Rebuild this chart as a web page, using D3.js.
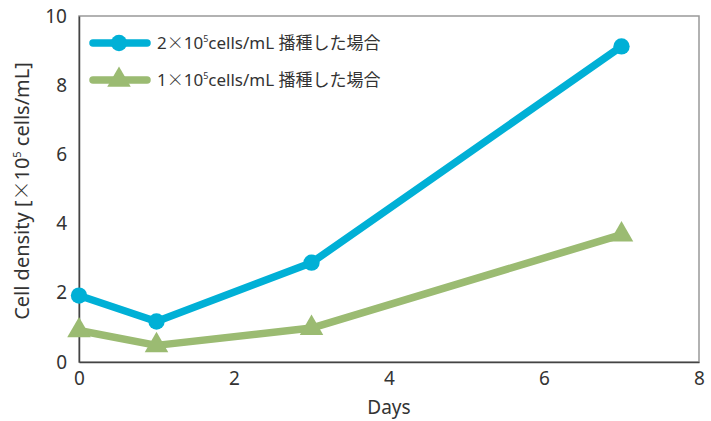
<!DOCTYPE html>
<html lang="ja">
<head>
  <meta charset="UTF-8">
  <title>Cell density</title>
  <script src="https://d3js.org/d3.v7.min.js"></script>
  <style>
    body { margin: 0; background: #fff; }
    text { font-family: "Noto Sans", "Noto Sans CJK JP", sans-serif; fill: #333; }
    .tick text { font-size: 19px; }
    .axis-label { font-size: 19px; }
    .y-label { font-size: 20px; }
    .legend text { font-size: 17px; }
    .cjk { font-family: "Noto Sans CJK JP", sans-serif; font-weight: 300; }
  </style>
</head>
<body>
  <svg id="chart" width="711" height="421"></svg>
  <script>
    const days = [0, 1, 3, 7];
    const seeded2 = [1.92, 1.17, 2.87, 9.12];
    const seeded1 = [0.91, 0.48, 0.98, 3.68];
    const xTicks = [0, 2, 4, 6, 8];
    const yTicks = [0, 2, 4, 6, 8, 10];
    const seriesNames = [["2", "×", "10", "5", "cells/mL 播種した場合"],
                         ["1", "×", "10", "5", "cells/mL 播種した場合"]];

    const svg = d3.select("#chart"),
          margin = {top: 16, right: 12, bottom: 59, left: 79},
          w = +svg.attr("width") - margin.left - margin.right,
          h = +svg.attr("height") - margin.top - margin.bottom;

    const g = svg.append("g").attr("transform", `translate(${margin.left},${margin.top})`);

    const x = d3.scaleLinear().domain([0, 8]).range([0, w]);
    const y = d3.scaleLinear().domain([0, 10]).range([h, 0]);

    // frame: light top/right, dark left/bottom
    g.append("rect").attr("width", w).attr("height", h)
      .attr("fill", "none").attr("stroke", "#999").attr("stroke-width", 1.5);

    const yAxis = g.append("g").call(d3.axisLeft(y).tickValues(yTicks).tickSize(0).tickPadding(12));
    const xAxis = g.append("g").attr("transform", `translate(0,${h})`)
      .call(d3.axisBottom(x).tickValues(xTicks).tickSize(0).tickPadding(10));
    [yAxis, xAxis].forEach(a => {
      a.select(".domain").attr("stroke", "#444").attr("stroke-width", 1.5);
      a.selectAll(".tick text").attr("fill", "#333");
    });

    const series = [
      {name: seriesNames[0], values: seeded2, color: "#00b0d6", marker: "circle"},
      {name: seriesNames[1], values: seeded1, color: "#9bbb72", marker: "triangle"}
    ];

    const line = d3.line().x(d => x(d[0])).y(d => y(d[1]));
    const circleSym = d3.symbol().type(d3.symbolCircle).size(210);
    const triSym = d3.symbol().type(d3.symbolTriangle).size(240);

    series.forEach(s => {
      const pts = days.map((d, i) => [d, s.values[i]]);
      g.append("path").datum(pts)
        .attr("fill", "none").attr("stroke", s.color).attr("stroke-width", 7.5)
        .attr("stroke-linejoin", "round").attr("d", line);
      g.selectAll(null).data(pts).join("path")
        .attr("transform", d => `translate(${x(d[0])},${y(d[1])})`)
        .attr("d", s.marker === "circle" ? circleSym : triSym)
        .attr("fill", s.color);
    });

    // Legend
    const legend = svg.append("g").attr("class", "legend")
      .attr("transform", `translate(93, 43)`);
    series.forEach((s, i) => {
      const yoff = i * 37;
      legend.append("line")
        .attr("x1", 0).attr("x2", 54).attr("y1", yoff).attr("y2", yoff)
        .attr("stroke", s.color).attr("stroke-width", 7.5).attr("stroke-linecap", "round");
      legend.append("path")
        .attr("transform", `translate(26,${yoff})`)
        .attr("d", s.marker === "circle" ? circleSym : triSym)
        .attr("fill", s.color);
      const t = legend.append("text").attr("x", 64).attr("y", yoff + 6);
      t.append("tspan").text(s.name[0]);
      t.append("tspan").attr("class", "cjk").text(s.name[1]);
      t.append("tspan").text(s.name[2]);
      t.append("tspan").attr("font-size", 9).attr("dy", -7).text(s.name[3]);
      t.append("tspan").attr("dy", 7).text(s.name[4]);
    });

    svg.append("text")
      .attr("class", "axis-label")
      .attr("x", margin.left + w / 2).attr("y", 414)
      .style("text-anchor", "middle")
      .text("Days");

    const yl = svg.append("text")
      .attr("class", "y-label")
      .attr("transform", `translate(29,${margin.top + h / 2 + 2}) rotate(-90)`)
      .style("text-anchor", "middle");
    yl.append("tspan").text("Cell density [");
    yl.append("tspan").attr("class", "cjk").text("×");
    yl.append("tspan").text("10");
    yl.append("tspan").attr("font-size", 11).attr("dy", -8).text("5");
    yl.append("tspan").attr("dy", 8).text(" cells/mL]");
  </script>
</body>
</html>
